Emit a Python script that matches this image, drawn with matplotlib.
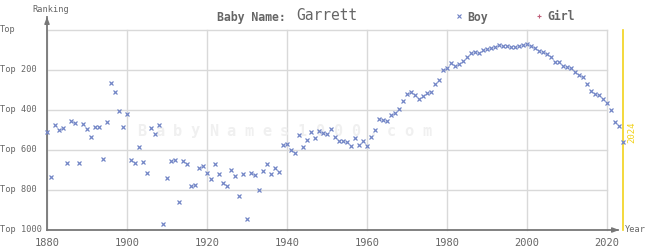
import matplotlib
matplotlib.use("Agg")
import matplotlib.pyplot as plt

years = list(range(1880, 2025))
boy_rank = [
    512, 737, 477, 502, 492, 667, 457, 467, 667, 472,  # 1880-1889
    497, 537, 487, 487, 647, 462, 267, 312, 407, 487,  # 1890-1899
    422, 652, 667, 587, 662, 717, 492, 522, 477, 972,  # 1900-1909
    742, 657, 652, 862, 657, 672, 782, 777, 692, 682,  # 1910-1919
    717, 747, 672, 722, 767, 782, 702, 732, 832, 722,  # 1920-1929
    947, 717, 727, 802, 707, 672, 722, 692, 712, 577,  # 1930-1939
    572, 602, 617, 527, 587, 552, 512, 542, 507, 517,  # 1940-1949
    522, 497, 537, 557, 557, 562, 582, 542, 577, 557,  # 1950-1959
    582, 537, 502, 447, 452, 457, 427, 417, 397, 357,  # 1960-1969
    322, 312, 327, 347, 332, 317, 312, 272, 252, 202,  # 1970-1979
    192, 167, 182, 172, 157, 137, 117, 112, 117, 102,  # 1980-1989
    97, 92, 87, 77, 82, 82, 87, 87, 82, 77,            # 1990-1999
    72, 82, 92, 107, 112, 122, 137, 162, 162, 182,     # 2000-2009
    187, 192, 212, 227, 237, 272, 307, 322, 327, 347,  # 2010-2019
    367, 402, 462, 482, 562,                            # 2020-2024
]
x_ticks = [1880, 1900, 1920, 1940, 1960, 1980, 2000, 2020]
y_ticks = [0, 200, 400, 600, 800, 1000]
y_labels = ["Top", "Top 200", "Top 400", "Top 600", "Top 800", "Top 1000"]
name = "Garrett"
current_year = 2024

W, H = 645, 250
fig = plt.figure(figsize=(W / 100, H / 100), dpi=100)
ax = fig.add_axes([0, 0, 1, 1])
# pixel mapping: x_px = 47 + 4*(yr-1880); y_px = 30 + rank/5
ax.set_xlim(1880 - 47 / 4, 1880 + (W - 47) / 4)
ax.set_ylim((H - 30) * 5, -30 * 5)
ax.axis("off")

def px_x(p):
    return 1880 + (p - 47) / 4

def px_y(p):
    return (p - 30) * 5

mono = "DejaVu Sans Mono"
grid_c = "#d9d9d9"
txt_c = "#666666"

# grid
for xt in x_ticks:
    ax.plot([xt, xt], [0, 1000], color=grid_c, lw=1, zorder=1)
for yt in y_ticks[:-1]:
    ax.plot([1880, 2020], [yt, yt], color=grid_c, lw=1, zorder=1)

# watermark
wm = "BabyNames1000.com"
for i, ch in enumerate(wm):
    ax.text(px_x(142 + i * 17.8), px_y(131), ch, fontsize=11, family=mono,
            fontweight="bold", color="#f0f0f0", ha="center", va="center", zorder=1)

# axes lines
axis_c = "#777777"
ax.plot([1880, 1880], [1000, px_y(17)], color=axis_c, lw=1.3, zorder=3)
ax.annotate("", xy=(1880, px_y(14)), xytext=(1880, px_y(24)),
            arrowprops=dict(arrowstyle="-|>,head_width=0.15,head_length=0.4", color=axis_c, lw=1))
ax.plot([1880, px_x(618)], [1000, 1000], color=axis_c, lw=1.3, zorder=3)
ax.annotate("", xy=(px_x(622), 1000), xytext=(px_x(612), 1000),
            arrowprops=dict(arrowstyle="-|>,head_width=0.15,head_length=0.4", color=axis_c, lw=1))
ax.text(px_x(625), 1000, "Year", fontsize=6.2, family=mono, color=txt_c, ha="left", va="center")
ax.text(px_x(32), px_y(9), "Ranking", fontsize=6.2, family=mono, color=txt_c, ha="left", va="center")

# tick labels
for xt in x_ticks:
    ax.text(xt, px_y(243), str(xt), fontsize=7.5, family=mono, color=txt_c, ha="center", va="center")
for yt, lab in zip(y_ticks, y_labels):
    ax.text(px_x(0), yt, lab, fontsize=6.2, family=mono, color=txt_c, ha="left", va="center")

# current year line
ax.plot([current_year, current_year], [0, 1000], color="#f2d21a", lw=1.2, zorder=2)
ax.text(px_x(632), px_y(132), str(current_year), rotation=90, fontsize=6.5, family=mono,
        color="#f2d21a", ha="center", va="center")

# data
ax.plot(years, boy_rank, linestyle="none", marker="x", markersize=2.8, mew=0.9,
        color="#7285c6", zorder=4, clip_on=False)

# title & legend
ax.text(px_x(217), px_y(17), "Baby Name:", fontsize=8.3, family=mono, fontweight="bold",
        color=txt_c, ha="left", va="center")
ax.text(px_x(296), px_y(16), name, fontsize=10.5, family=mono, color=txt_c, ha="left", va="center")
ax.plot([px_x(459)], [px_y(16)], marker="x", markersize=2.5, mew=0.8, color="#6f82c4", linestyle="none")
ax.text(px_x(467), px_y(17), "Boy", fontsize=8.3, family=mono, fontweight="bold",
        color=txt_c, ha="left", va="center")
ax.plot([px_x(539)], [px_y(16)], marker="+", markersize=3, mew=0.8, color="#c0607a", linestyle="none")
ax.text(px_x(547), px_y(17), "Girl", fontsize=8.3, family=mono, fontweight="bold",
        color=txt_c, ha="left", va="center")

fig.savefig("out.png", dpi=100)
